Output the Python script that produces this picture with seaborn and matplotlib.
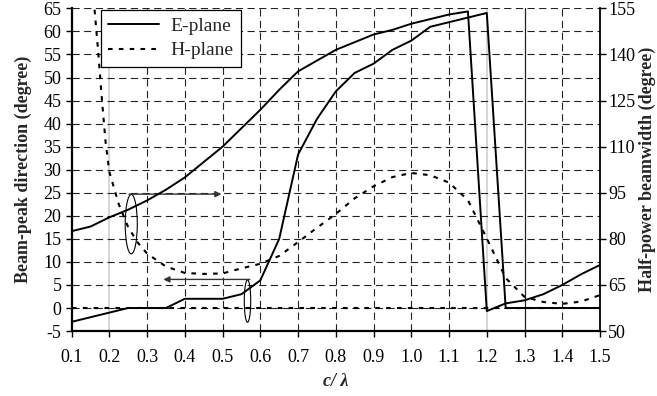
import matplotlib
matplotlib.use('Agg')
import matplotlib.pyplot as plt
import seaborn as sns
import numpy as np
from matplotlib.patches import Ellipse

# ---------------- data ----------------
x_e = [0.10, 0.15, 0.20, 0.25, 0.30, 0.35, 0.40, 0.45, 0.50, 0.55, 0.60, 0.65, 0.70, 0.75,
       0.80, 0.85, 0.90, 0.95, 1.00, 1.05, 1.10, 1.15, 1.20, 1.25, 1.30, 1.35, 1.40, 1.45, 1.50]
# E-plane beam-peak direction (left axis, degree)
e_peak = [-3, -2, -1, 0, 0, 0, 2, 2, 2, 3, 6, 15, 33.3, 41,
          47, 51, 53, 56, 58, 61, 62, 63, 64, 0, 0, 0, 0, 0, 0]
# E-plane half-power beamwidth (right axis, degree)
e_bw = [82.5, 84, 87, 89.5, 92.5, 96, 100, 105, 110, 116, 122, 128.5, 134.5, 138,
        141.5, 144, 146.5, 148, 150, 151.5, 153, 154, 56.5, 59, 60, 62, 65, 68.5, 71.5]

x_h = [0.15, 0.16, 0.17, 0.18, 0.19, 0.20, 0.225, 0.25, 0.275, 0.30, 0.35, 0.40, 0.45, 0.50,
       0.55, 0.60, 0.65, 0.70, 0.75, 0.80, 0.85, 0.90, 0.95, 1.00, 1.05, 1.10, 1.15, 1.20,
       1.25, 1.30, 1.35, 1.40, 1.45, 1.50]
# H-plane half-power beamwidth (right axis, degree)
h_bw = [164, 155.75, 141.5, 125.75, 111.5, 101.75, 91.25, 83.75, 78.8, 75.2, 71, 68.9, 68.6, 68.75,
        70.4, 71.9, 74.45, 78.95, 83.6, 88.1, 93.2, 97.1, 100.1, 101.45, 100.7, 98.3, 92.6, 80.15,
        67.25, 61.1, 59.45, 58.85, 59.6, 61.7]
# H-plane beam-peak direction (left axis, degree)
h_peak = [0] * len(x_e)

x_ticks = [0.1, 0.2, 0.3, 0.4, 0.5, 0.6, 0.7, 0.8, 0.9, 1.0, 1.1, 1.2, 1.3, 1.4, 1.5]
left_ticks = list(range(-5, 66, 5))
right_ticks = [50, 65, 80, 95, 110, 125, 140, 155]

# ---------------- style ----------------
sns.set_theme(style='white')
plt.rcParams['font.family'] = ['Liberation Serif', 'DejaVu Serif']
FS = 13
FS_LEG = 14

fig = plt.figure(figsize=(6.57, 3.96), dpi=100)
ax = fig.add_axes([0.109, 0.164, 0.8043, 0.8149])
ax2 = ax.twinx()

solid_kw = dict(color='black', linewidth=1.4, linestyle='-')
h_dash = (0, (2.2, 3.0))

sns.lineplot(x=x_e, y=e_peak, ax=ax, estimator=None, sort=False, label='E-plane', **solid_kw)
sns.lineplot(x=x_e, y=h_peak, ax=ax, estimator=None, sort=False, label='H-plane',
             color='black', linewidth=1.5, linestyle=h_dash)
sns.lineplot(x=x_e, y=e_bw, ax=ax2, estimator=None, sort=False, **solid_kw)
sns.lineplot(x=x_h, y=h_bw, ax=ax2, estimator=None, sort=False,
             color='black', linewidth=1.5, linestyle=h_dash)

if ax.get_legend():
    ax.get_legend().remove()
if ax2.get_legend():
    ax2.get_legend().remove()

# axes ranges
ax.set_xlim(0.1, 1.5)
ax.set_ylim(-5, 65)
ax2.set_ylim(50, 155)

# grid
ax.set_yticks(left_ticks)
ax.set_yticklabels([str(t) for t in left_ticks], fontsize=FS)
for t in left_ticks[1:]:
    ax.axhline(t, color='#222222', linewidth=0.8, linestyle=(0, (6.5, 4)), zorder=0.5)
for t in x_ticks[1:-1]:
    if abs(t - 0.2) < 1e-6 or abs(t - 1.2) < 1e-6:
        ax.axvline(t, color='#cfcfcf', linewidth=1.2, linestyle='-', zorder=0.4)
    elif abs(t - 1.3) < 1e-6:
        ax.axvline(t, color='#222222', linewidth=0.9, linestyle='-', zorder=0.5)
    else:
        ax.axvline(t, color='#222222', linewidth=0.8, linestyle=(0, (6.5, 4)), zorder=0.5)

ax.set_xticks(x_ticks)
ax.set_xticklabels([f'{t:.1f}' for t in x_ticks], fontsize=FS)
ax2.set_yticks(right_ticks)
ax2.set_yticklabels([str(t) for t in right_ticks], fontsize=FS)

# spines
for s in ['top', 'right']:
    ax.spines[s].set_visible(False)
for s in ['top', 'left', 'bottom']:
    ax2.spines[s].set_visible(False)
ax.spines['left'].set_linewidth(1.6)
ax.spines['bottom'].set_linewidth(1.6)
ax2.spines['right'].set_linewidth(1.3)
for s in ['left', 'bottom']:
    ax.spines[s].set_color('black')
ax2.spines['right'].set_color('black')

ax.tick_params(axis='x', direction='out', length=4, width=1, color='black', pad=9,
               bottom=True, labelcolor='black')
ax.tick_params(axis='y', direction='out', length=4.3, width=1, color='black', pad=3,
               left=True, labelcolor='black')
ax2.tick_params(axis='y', direction='out', length=4.5, width=1, color='black', pad=1.5,
                right=True, labelcolor='black')

ax.set_ylabel('Beam-peak direction (degree)', fontsize=FS, fontweight='bold', labelpad=8)
ax2.set_ylabel('Half-power beamwidth (degree)', fontsize=FS, fontweight='bold',
               rotation=90, labelpad=2)
ax.set_xlabel('c/ λ', fontsize=FS, fontweight='bold', fontstyle='italic', labelpad=5)

# annotations (ellipses and arrows)
ax.add_patch(Ellipse((0.258, 18.2), width=0.032, height=12.9, fill=False,
                     edgecolor='black', linewidth=0.8, zorder=3))
ax.add_patch(Ellipse((0.566, 1.5), width=0.017, height=9.2, fill=False,
                     edgecolor='black', linewidth=0.8, zorder=3))
arrow_kw = dict(arrowstyle='-|>', color='#333333', lw=1.0, mutation_scale=9,
                shrinkA=0, shrinkB=0)
ax.annotate('', xy=(0.497, 24.7), xytext=(0.252, 24.7), arrowprops=arrow_kw)
ax.annotate('', xy=(0.343, 6.2), xytext=(0.572, 6.2), arrowprops=arrow_kw)

# legend
handles = ax.get_lines()[:2]
leg = ax2.legend(handles, ['E-plane', 'H-plane'], loc='upper left',
                 bbox_to_anchor=(0.055, 0.996), borderaxespad=0, frameon=True,
                 fancybox=False, edgecolor='black', fontsize=FS_LEG, handlelength=2.6,
                 borderpad=0.4, labelspacing=0.35, handletextpad=0.6)
leg.get_frame().set_linewidth(0.9)
leg.get_frame().set_facecolor('white')
leg.get_frame().set_alpha(1)
leg.set_zorder(10)

fig.savefig('out.png', dpi=100)
